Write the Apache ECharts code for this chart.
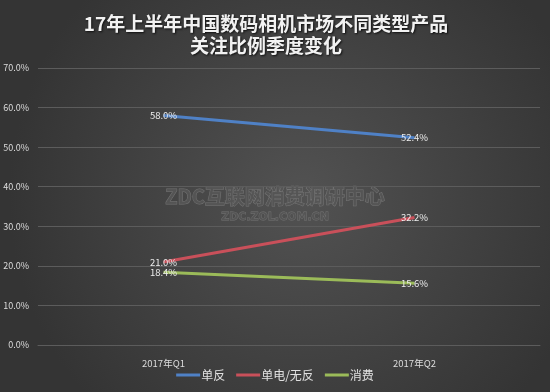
<!DOCTYPE html>
<html><head><meta charset="utf-8">
<script src="https://cdn.jsdelivr.net/npm/echarts@6/dist/echarts.min.js"></script>
<style>html,body{margin:0;padding:0;background:#404040}#c{width:550px;height:392px}</style>
</head><body><div id="c"></div>
<script>
const categories = ['2017年Q1', '2017年Q2'];
const seriesNames = ['单反', '单电/无反', '消费'];
const dslr = [58.0, 52.4];
const mirrorless = [21.0, 32.2];
const compact = [18.4, 15.6];
const yTicks = [0, 10, 20, 30, 40, 50, 60, 70];
const colors = ['#4f81c6', '#c9505a', '#9bbb59'];

const chart = echarts.init(document.getElementById('c'));
const font = '"Noto Sans CJK SC", "Microsoft YaHei", sans-serif';
function mk(name, data, color) {
  return {
    name, type: 'line', data, showSymbol: true, symbol: 'circle', symbolSize: 0.1,
    itemStyle: { color },
    lineStyle: { color, width: 3 },
    label: { show: true, position: 'inside', color: '#ececec', fontSize: 9.5, fontFamily: font,
      formatter: p => p.value.toFixed(1) + '%' },
    emphasis: { disabled: true }
  };
}
chart.setOption({
  backgroundColor: {
    type: 'radial', x: 0.55, y: 0.5, r: 0.75,
    colorStops: [{ offset: 0, color: '#525252' }, { offset: 1, color: '#343434' }]
  },
  animation: false,
  title: {
    text: '17年上半年中国数码相机市场不同类型产品\n关注比例季度变化',
    left: 261, top: 8, textAlign: 'center',
    textStyle: { color: '#f2f2f2', fontSize: 19, fontWeight: 'bold', lineHeight: 22, fontFamily: font,
      textShadowColor: '#111', textShadowBlur: 2, textShadowOffsetX: 1, textShadowOffsetY: 1 }
  },
  graphic: [
    { type: 'text', left: 'center', top: 186, z: 0,
      style: { text: 'ZDC互联网消费调研中心', fill: 'rgba(85,85,85,0.9)', stroke: 'rgba(125,125,125,0.8)', lineWidth: 1,
        font: 'bold 20px "Noto Sans CJK SC", sans-serif' } },
    { type: 'text', left: 'center', top: 211, z: 0,
      style: { text: 'ZDC.ZOL.COM.CN', fill: 'rgba(85,85,85,0.9)', stroke: 'rgba(125,125,125,0.8)', lineWidth: 0.8,
        font: 'bold 11px "DejaVu Sans", sans-serif' } }
  ],
  legend: {
    bottom: 6, left: 'center', itemWidth: 24, itemHeight: 3, itemGap: 11,
    data: seriesNames.map((n, i) => ({ name: n, icon: 'rect', itemStyle: { color: colors[i], opacity: 1 } })),
    textStyle: { color: '#e0e0e0', fontSize: 12, fontFamily: font, padding: [0, 0, 0, -4] }
  },
  grid: { left: 38, right: 10, top: 68, bottom: 47, containLabel: false },
  xAxis: {
    type: 'category', data: categories, boundaryGap: true,
    axisLine: { lineStyle: { color: '#5c5c5c', width: 1 } },
    axisTick: { show: false },
    axisLabel: { color: '#dcdcdc', fontSize: 9.5, margin: 14, fontFamily: font }
  },
  yAxis: {
    type: 'value', min: yTicks[0], max: yTicks[yTicks.length - 1], interval: 10,
    axisLine: { show: false }, axisTick: { show: false },
    axisLabel: { color: '#dcdcdc', fontSize: 9, margin: 9, fontFamily: font, formatter: v => v.toFixed(1) + '%' },
    splitLine: { lineStyle: { color: '#5c5c5c', width: 1 } }
  },
  series: [mk(seriesNames[0], dslr, colors[0]), mk(seriesNames[1], mirrorless, colors[1]), mk(seriesNames[2], compact, colors[2])]
});
</script></body></html>
